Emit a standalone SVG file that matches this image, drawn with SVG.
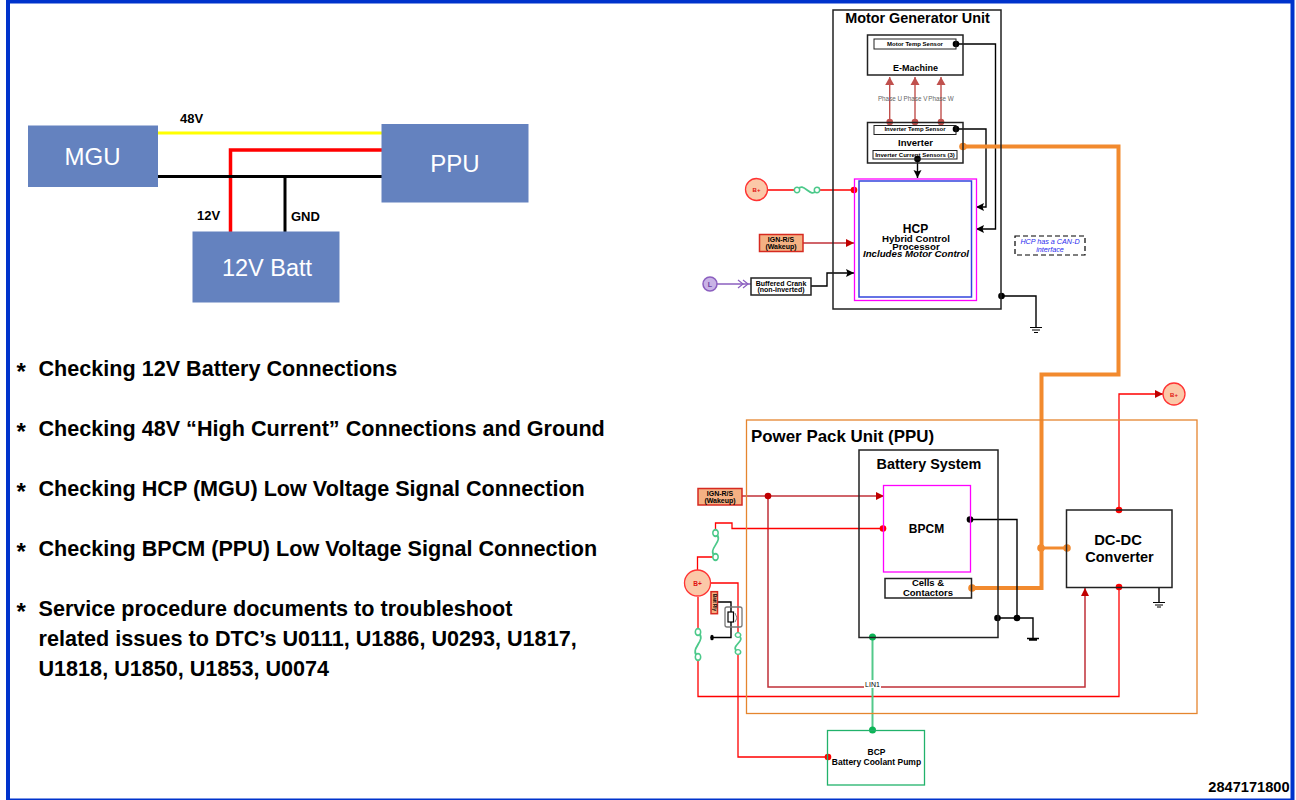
<svg xmlns="http://www.w3.org/2000/svg" width="1296" height="800" viewBox="0 0 1296 800">
<defs>
<marker id="ab" markerUnits="userSpaceOnUse" markerWidth="10" markerHeight="10" refX="9" refY="5" orient="auto"><path d="M1,1L9,5L1,9L2.500,5Z" fill="#000"/></marker>
<marker id="ar" markerUnits="userSpaceOnUse" markerWidth="10" markerHeight="10" refX="9" refY="5" orient="auto"><path d="M1,1L9,5L1,9Z" fill="#c00000"/></marker>
<marker id="ap" markerUnits="userSpaceOnUse" markerWidth="10" markerHeight="10" refX="9" refY="5" orient="auto"><path d="M1,0.500L9,5L1,9.500Z" fill="#c0504d"/></marker>
<g id="fuse-v"><path d="M0,0c10,7 -10,13 0,20" fill="none" stroke="#4cc98a" stroke-width="1.700"/><circle cx="0" cy="0" r="2.700" fill="#fff" stroke="#4cc98a" stroke-width="1.500"/><circle cx="0" cy="20" r="2.700" fill="#fff" stroke="#4cc98a" stroke-width="1.500"/></g>
</defs>
<style>
text{font-family:"Liberation Sans",Arial,sans-serif;fill:#000}
.bl{fill:#6482bf;stroke:none}
.wt{fill:#fff;font-size:24px;text-anchor:middle}
.b{font-weight:700}
.m{text-anchor:middle}
.bul{font-size:21.600px;font-weight:700}
.ast{font-size:24px;font-weight:700}
.box{fill:none;stroke:#222;stroke-width:1.500}
.thin{fill:none;stroke:#222;stroke-width:1}
.k{stroke:#000;stroke-width:1.400;fill:none}
.r{stroke:#f00;stroke-width:1.300;fill:none}
.dr{stroke:#c03038;stroke-width:1.500;fill:none}
.o{stroke:#f28a2e;stroke-width:4;fill:none}
.g{stroke:#52c98a;stroke-width:2;fill:none}
.tag{fill:#f4b183;stroke:#d62a20;stroke-width:1.500}
.bp{fill:#fbc8a8;stroke:#f33;stroke-width:1.300}
.sens{font-size:6px;font-weight:700;text-anchor:middle}
.ph{font-size:6.300px;text-anchor:middle;fill:#666}
.tg{font-size:7px;font-weight:700;text-anchor:middle}
.bt{font-weight:700;text-anchor:middle;fill:#e01010}
.can{font-size:7.200px;font-style:italic;text-anchor:middle;fill:#2a2aee}
</style>
<rect width="1296" height="800" fill="#fff"/>
<path d="M8,800V1.500H1292.500V800" fill="none" stroke="#0033cc" stroke-width="4"/>
<path d="M6,799.300H1294" stroke="#0033cc" stroke-width="1.500"/>

<g id="simple-wires">
<path d="M158,133H382" stroke="#ff0" stroke-width="3"/>
<path d="M230.500,232V150H382" stroke="#f00" stroke-width="3.500" fill="none"/>
<path d="M158,176.500H382" stroke="#000" stroke-width="3"/>
<path d="M285,176V232" stroke="#000" stroke-width="3"/>
</g>
<g id="mgu-block"><rect class="bl" x="28" y="125.500" width="130" height="61.500"/><text class="wt" x="92.500" y="165">MGU</text></g>
<g id="ppu-block"><rect class="bl" x="381.500" y="124" width="147" height="78.500"/><text class="wt" x="455" y="172">PPU</text></g>
<g id="batt-block"><rect class="bl" x="192.500" y="231.500" width="147" height="71"/><text class="wt" style="font-size:23.500px" x="267" y="276">12V Batt</text></g>
<text class="b" x="180" y="123" font-size="13">48V</text>
<text class="b" x="197" y="220" font-size="13">12V</text>
<text class="b" x="291" y="221" font-size="13">GND</text>

<g id="bullets">
<text class="ast" x="16.500" y="380">*</text><text class="bul" x="38.500" y="376">Checking 12V Battery Connections</text>
<text class="ast" x="16.500" y="440">*</text><text class="bul" x="38.500" y="436">Checking 48V “High Current” Connections and Ground</text>
<text class="ast" x="16.500" y="500">*</text><text class="bul" x="38.500" y="496">Checking HCP (MGU) Low Voltage Signal Connection</text>
<text class="ast" x="16.500" y="560">*</text><text class="bul" x="38.500" y="556">Checking BPCM (PPU) Low Voltage Signal Connection</text>
<text class="ast" x="16.500" y="620">*</text><text class="bul" x="38.500" y="616">Service procedure documents to troubleshoot</text>
<text class="bul" x="38.500" y="646">related issues to DTC’s U0111, U1886, U0293, U1817,</text>
<text class="bul" x="38.500" y="676">U1818, U1850, U1853, U0074</text>
</g>

<g id="connectors">
<path class="k" d="M956,44H995.500V229H976" marker-end="url(#ab)"/>
<path class="k" d="M956,129H986V207H976" marker-end="url(#ab)"/>
<path class="k" d="M917.500,159V178" marker-end="url(#ab)"/>
<path d="M889.700,122V77" stroke="#c0504d" stroke-width="1.400" marker-end="url(#ap)"/>
<path d="M915,122V77" stroke="#c0504d" stroke-width="1.400" marker-end="url(#ap)"/>
<path d="M941,122V77" stroke="#c0504d" stroke-width="1.400" marker-end="url(#ap)"/>
<path class="o" d="M963,146.500H1118.500V374.500H1041.500V588H972"/>
<path class="o" d="M1041,548H1067" style="stroke-width:3"/>
<path class="r" d="M767,190H797M817,190H854"/>
<path class="dr" d="M803,243H854" marker-end="url(#ar)"/>
<path d="M716,284H751" stroke="#8b5fbf" stroke-width="1.400" fill="none"/>
<path d="M738,280L743,284L738,288M743,280L748,284L743,288" stroke="#8b5fbf" stroke-width="1.200" fill="none"/>
<path class="k" d="M811,286H827V273H854" marker-end="url(#ab)"/>
<path class="k" d="M1001.500,296H1036V327"/>
<path class="k" d="M970,519.500H1017V618"/>
<path class="k" d="M997.500,618H1033V638"/>
<path class="k" d="M1159,588V602"/>
<path class="r" d="M1119,510V394H1163" marker-end="url(#ar)"/>
<path class="r" d="M1119,587V696.500H698V657M698,632V597"/>
<path class="dr" d="M742,496H884" marker-end="url(#ar)"/>
<path class="dr" d="M768,496V687H1085V588" marker-end="url(#ar)"/>
<path class="r" d="M883,528.500H732V523H715.500V533M715.500,557H697.500V570"/>
<path class="r" d="M711,583H738V635M738,652V757H827"/>
<path class="g" d="M872.500,637V730"/>
<use href="#fuse-v" transform="translate(797 190) rotate(-90)"/>
<use href="#fuse-v" transform="translate(715.500 533) scale(1 1.200)"/>
<use href="#fuse-v" transform="translate(698 632) scale(1 1.250)"/>
<use href="#fuse-v" transform="translate(738 635) scale(1 0.850)"/>
<path class="k" d="M717,602H731V637.500H712"/>
<ellipse cx="712" cy="637.500" rx="1.800" ry="2.800" fill="#000"/>
</g>
<g id="connector-dots">
<circle cx="956" cy="44" r="3.300" fill="#000"/><circle cx="956" cy="129" r="3.300" fill="#000"/><circle cx="917.500" cy="159" r="3.300" fill="#000"/>
<circle cx="889.700" cy="122" r="3.300" fill="#c0504d"/><circle cx="915" cy="122" r="3.300" fill="#c0504d"/><circle cx="941" cy="122" r="3.300" fill="#c0504d"/>
<circle cx="963" cy="146.500" r="3.800" fill="#f28a2e"/><circle cx="972" cy="588" r="3.800" fill="#f28a2e"/><circle cx="1041" cy="548" r="3.800" fill="#f28a2e"/><circle cx="1067" cy="548" r="3.800" fill="#f28a2e"/>
<circle cx="854" cy="190" r="3.300" fill="#f00"/><circle cx="1001.500" cy="296" r="3.300" fill="#000"/>
<circle cx="970" cy="519.500" r="3.300" fill="#000"/><circle cx="997.500" cy="618" r="3.300" fill="#000"/><circle cx="1017" cy="618" r="3.300" fill="#000"/>
<circle cx="768" cy="496" r="3.300" fill="#c00000"/><circle cx="883" cy="528.500" r="3.300" fill="#f00"/><circle cx="1119" cy="510" r="3.300" fill="#f00"/><circle cx="1119" cy="587" r="3.300" fill="#f00"/>
<circle cx="828" cy="757" r="3.300" fill="#f00"/><circle cx="872.500" cy="637" r="3.500" fill="#0bb455"/><circle cx="872.500" cy="730" r="3.500" fill="#0bb455"/>
</g>
<g id="grounds" stroke="#000" stroke-width="1.200">
<path d="M1030,327.500H1042M1032,330H1040M1034,332.500H1038"/>
<path d="M1027,638.500H1039M1029,640H1037" stroke-width="1.500"/>
<path d="M1153,602.500H1165M1155,605H1163M1157,607H1161"/>
</g>

<g id="mgu"><rect class="box" x="833" y="10" width="168" height="299"/><text class="b m" x="917.500" y="23" font-size="14.400">Motor Generator Unit</text></g>
<g id="e-machine"><rect class="box" x="867.500" y="35" width="95.500" height="40"/><rect class="thin" x="874" y="39" width="82" height="10"/><text class="sens" x="915" y="45.500">Motor Temp Sensor</text><text class="b m" x="915.500" y="70.500" font-size="9">E-Machine</text></g>
<g id="phases"><text class="ph" x="890" y="101">Phase U</text><text class="ph" x="915.500" y="101">Phase V</text><text class="ph" x="941" y="101">Phase W</text></g>
<g id="inverter"><rect class="box" x="867.500" y="122.500" width="95.500" height="40.500"/><rect class="thin" x="874" y="125.500" width="82" height="9"/><text class="sens" x="915" y="131">Inverter Temp Sensor</text><text class="b m" x="915.500" y="145.500" font-size="9.500">Inverter</text><rect class="thin" x="873" y="150.500" width="84" height="8.500"/><text class="sens" x="915" y="157">Inverter Current Sensors (3)</text></g>
<g id="hcp"><rect x="854.500" y="179" width="122" height="121.500" fill="none" stroke="#f0f" stroke-width="1.300"/><rect x="859" y="181" width="112.500" height="116" fill="none" stroke="#3344dd" stroke-width="1.500"/><text class="b m" x="915.500" y="232.500" font-size="12">HCP</text><text class="b m" x="916" y="242" font-size="9.700">Hybrid Control</text><text class="b m" x="916" y="250" font-size="9.700">Processor</text><text class="b m" x="916" y="257" font-size="9.700" font-style="italic">Includes Motor Control</text></g>
<g id="b-plus-1"><circle class="bp" cx="756.500" cy="189.500" r="11"/><text class="bt" x="756.500" y="192" font-size="6">B+</text></g>
<g id="ign-1"><rect class="tag" x="759.500" y="234.500" width="43.500" height="17"/><text class="tg" x="781" y="242">IGN-R/S</text><text class="tg" x="781" y="248.500">(Wakeup)</text></g>
<g id="l-conn"><circle cx="710" cy="284" r="7" fill="#c9b3e6" stroke="#8b5fbf" stroke-width="1.500"/><text class="b m" x="710" y="287" font-size="7" style="fill:#6a3fa0">L</text></g>
<g id="crank"><rect class="box" x="751" y="278" width="60" height="17" style="fill:#fff"/><text class="tg" x="781" y="285.500">Buffered Crank</text><text class="tg" x="781" y="292">(non-inverted)</text></g>
<g id="can-note"><rect x="1015" y="236" width="70" height="19" fill="none" stroke="#000" stroke-width="1.200" stroke-dasharray="5,3"/><text class="can" x="1050" y="243.500">HCP has a CAN-D</text><text class="can" x="1050" y="252">interface</text></g>
<g id="b-plus-2"><circle class="bp" cx="1174" cy="394" r="11"/><text class="bt" x="1174" y="396.500" font-size="6">B+</text></g>

<g id="ppu"><rect x="746.500" y="420" width="450.500" height="293.500" fill="none" stroke="#e5852e" stroke-width="1.300"/><text class="b" x="751" y="441.500" font-size="16.900">Power Pack Unit (PPU)</text></g>
<g id="battery-system"><rect class="box" x="859" y="450" width="139" height="187.500"/><text class="b m" x="929" y="469" font-size="14.400">Battery System</text></g>
<g id="bpcm"><rect x="883.500" y="485.500" width="87" height="86.500" fill="none" stroke="#f0f" stroke-width="1.300"/><text class="b m" x="926.500" y="533" font-size="12">BPCM</text></g>
<g id="cells"><rect class="box" x="885" y="578.500" width="86.500" height="19.500"/><text class="b m" x="928" y="586" font-size="9.500">Cells &amp;</text><text class="b m" x="928" y="596" font-size="9.500">Contactors</text></g>
<g id="dcdc"><rect class="box" x="1066.500" y="510" width="105.500" height="77.500"/><text class="b m" x="1118" y="545" font-size="14.800">DC-DC</text><text class="b m" x="1119.500" y="562" font-size="14.500">Converter</text></g>
<g id="ign-2"><rect class="tag" x="698" y="488.500" width="44" height="16.500"/><text class="tg" x="720" y="496">IGN-R/S</text><text class="tg" x="720" y="502.500">(Wakeup)</text></g>
<g id="b-plus-3"><circle class="bp" cx="697.500" cy="583" r="13"/><text class="bt" x="697.500" y="586" font-size="6.500">B+</text></g>
<g id="relay"><rect class="tag" x="711" y="591.700" width="6.500" height="22"/><text class="b m" transform="translate(712.800 602.500) rotate(90)" font-size="4.500">Batt Rly</text><rect x="725" y="607" width="17" height="20" rx="2" fill="none" stroke="#777" stroke-width="1.300"/><rect x="728" y="612" width="5.500" height="10" fill="#fff" stroke="#000" stroke-width="1.200"/><path d="M735,613L737,618L735,622" stroke="#777" fill="none"/></g>
<g id="lin1"><rect x="864" y="680" width="17" height="8" fill="#fff"/><text class="m" x="872.500" y="686.500" font-size="7">LIN1</text></g>
<g id="bcp"><rect x="827.500" y="730.500" width="97" height="54.500" fill="none" stroke="#21b26b" stroke-width="1.300"/><text class="b m" x="876.500" y="755" font-size="8.500">BCP</text><text class="b m" x="876.500" y="765" font-size="8.500">Battery Coolant Pump</text></g>
<text class="b" x="1289.500" y="792" font-size="14.600" text-anchor="end">2847171800</text>
</svg>
